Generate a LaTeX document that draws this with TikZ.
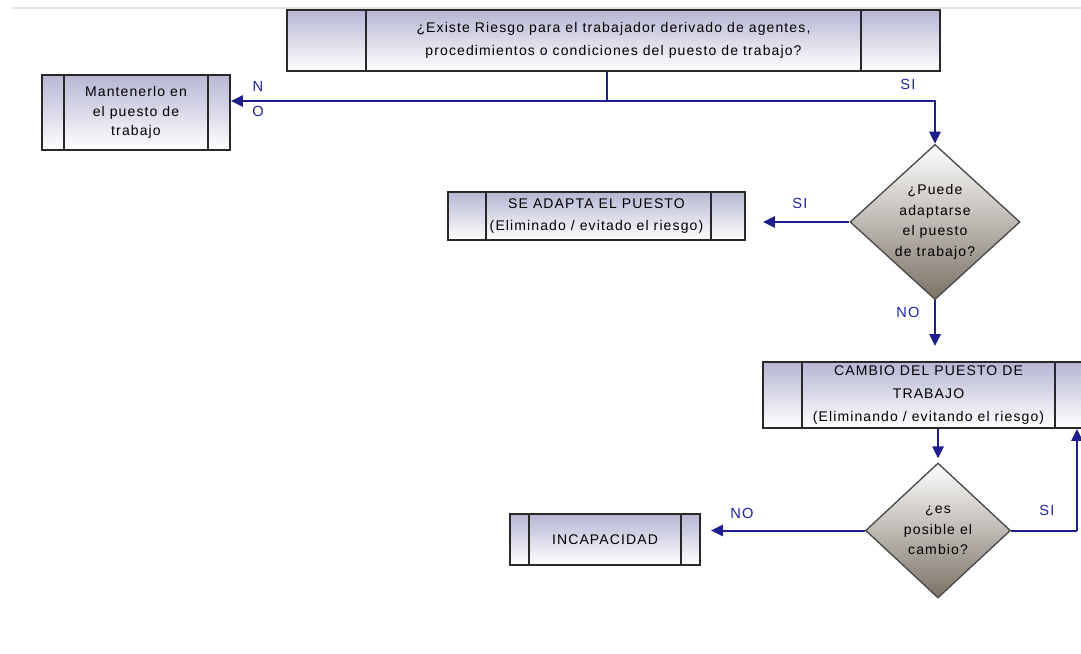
\documentclass[tikz,border=0pt]{standalone}
\usepackage{fontspec}
\setmainfont{Liberation Sans}[LetterSpace=8]
\usetikzlibrary{shapes.geometric,arrows.meta,calc}
\definecolor{boxtop}{RGB}{182,182,212}
\definecolor{boxline}{RGB}{40,40,40}
\definecolor{dbot}{RGB}{124,114,102}
\definecolor{arr}{RGB}{30,30,140}
\definecolor{lblc}{RGB}{35,35,160}
\definecolor{topline}{RGB}{226,226,226}
\newdimen\px \px=0.75pt
\newcommand\boxdivs[3]{\draw[divline] ($(#1.north west)+(#2,0)$) -- ($(#1.south west)+(#2,0)$) ($(#1.north east)+(-#3,0)$) -- ($(#1.south east)+(-#3,0)$);}
\begin{document}
\begin{tikzpicture}[x=0.75pt,y=-0.75pt,
  procbox/.style={rectangle, draw=boxline, line width=1.4pt, top color=boxtop, bottom color=white, inner sep=0pt, align=center, font=\fontsize{10.5}{17}\selectfont},
  divline/.style={draw=boxline, line width=1.4pt},
  decis/.style={diamond, draw=boxline!85, line width=1pt, top color=white, bottom color=dbot, inner sep=0pt, align=center, font=\fontsize{10.5}{15.5}\selectfont},
  conn/.style={draw=arr, line width=1.5pt, -{Triangle[length=9pt,width=8.5pt]}},
  plain/.style={draw=arr, line width=1.5pt},
  lbl/.style={text=lblc, font=\fontsize{11}{12}\selectfont, inner sep=0pt}]
\useasboundingbox (0,0) rectangle (1081,653);
\clip (0,0) rectangle (1081,653);
\draw[topline, line width=1.5pt] (12,7.5) -- (1081,7.5);

% process boxes
\node[procbox, minimum width=653\px, minimum height=61\px] (top) at (613.5,40.5)
  {¿Existe Riesgo para el trabajador derivado de agentes,\\procedimientos o condiciones del puesto de trabajo?};
\boxdivs{top}{80}{80}
\node[procbox, minimum width=188\px, minimum height=75\px, font=\fontsize{10.5}{14.6}\selectfont] (mant) at (136,112.5)
  {Mantenerlo en\\el puesto de\\trabajo};
\boxdivs{mant}{23}{23}
\node[procbox, minimum width=297\px, minimum height=48\px] (adapt) at (596.5,216)
  {SE ADAPTA EL PUESTO\\(Eliminado / evitado el riesgo)};
\boxdivs{adapt}{39}{35}
\node[procbox, minimum width=331\px, minimum height=66\px] (cambio) at (928.5,395)
  {CAMBIO DEL PUESTO DE\\TRABAJO\\(Eliminando / evitando el riesgo)};
\boxdivs{cambio}{40}{40}
\node[procbox, minimum width=190\px, minimum height=51\px] (incap) at (605,539.5)
  {INCAPACIDAD};
\boxdivs{incap}{20}{20}

% decisions
\node[decis, minimum width=170\px, minimum height=152\px] (d1) at (935,222)
  {¿Puede\\adaptarse\\el puesto\\de trabajo?};
\node[decis, minimum width=145\px, minimum height=135\px] (d2) at (938,530.5)
  {¿es\\posible el\\cambio?};

% connectors
\coordinate (j) at (607,101);
\draw[plain] (top.south -| j) -- (j);
\draw[conn] (j) -- (mant.east |- j);
\draw[conn] (j) -| (d1.north);
\draw[conn, shorten >=17\px] (d1.west) -- (d1.west -| adapt.east);
\draw[conn, shorten >=15\px] (d1.south) -- (cambio.north -| d1.south);
\draw[conn, shorten >=4\px] (cambio.south -| d2.north) -- (d2.north);
\draw[conn, shorten >=10\px] (d2.west) -- (d2.west -| incap.east);
\coordinate (r) at (1077,530.5);
\draw[plain] (d2.east) -- (r);
\draw[conn] (r) -- (r |- cambio.south);

% labels
\node[lbl] (lN) at (258,86) {N};
\node[lbl] (lO) at (258,111) {O};
\node[lbl] (lsi1) at (908,84) {SI};
\node[lbl] (lsi2) at (800,203) {SI};
\node[lbl] (lno1) at (908,312) {NO};
\node[lbl] (lno2) at (742,513) {NO};
\node[lbl] (lsi3) at (1047,510) {SI};
\end{tikzpicture}
\end{document}
